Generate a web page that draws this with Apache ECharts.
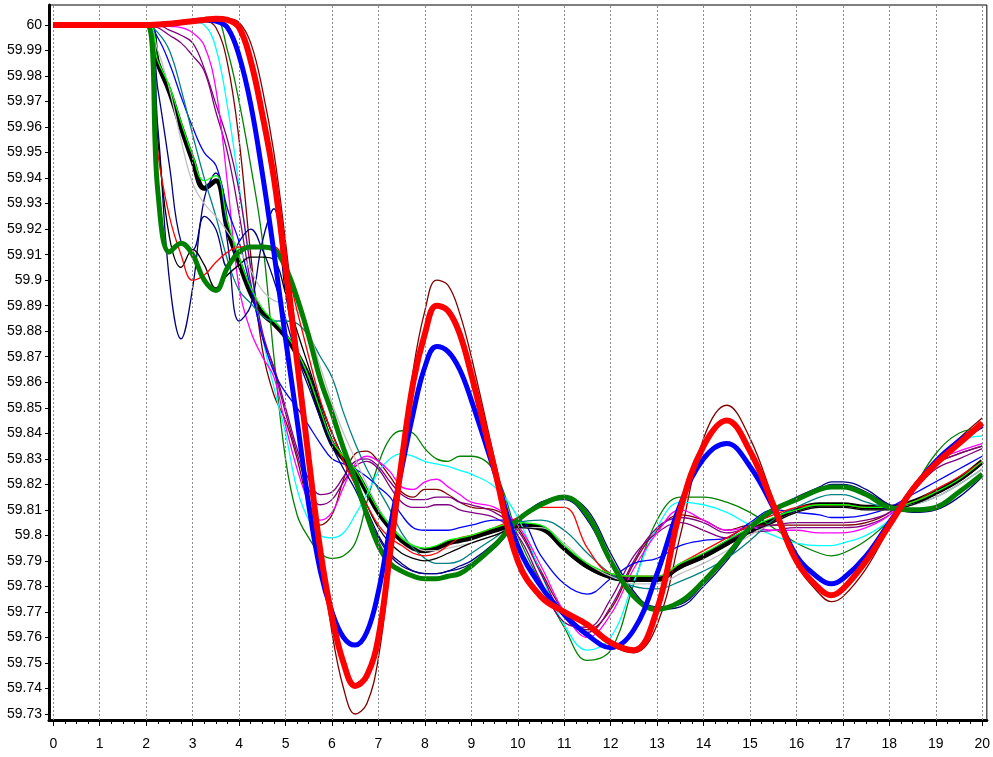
<!DOCTYPE html>
<html><head><meta charset="utf-8">
<script src="https://cdn.jsdelivr.net/npm/echarts@6/dist/echarts.min.js"></script>
<style>html,body{margin:0;padding:0;background:#fff}#c{width:993px;height:757px}</style>
</head><body><div id="c"></div>
<script>
const times = [0, 2, 2.25, 2.5, 2.75, 3, 3.25, 3.5, 3.75, 4, 4.25, 4.5, 4.75, 5, 5.25, 5.5, 5.75, 6, 6.25, 6.5, 6.75, 7, 7.25, 7.5, 7.75, 8, 8.25, 8.5, 8.75, 9, 9.5, 10, 10.5, 11, 11.5, 12, 12.5, 13, 13.5, 14, 14.5, 15, 15.5, 16, 16.5, 16.75, 17, 17.5, 18, 18.5, 19, 19.5, 20];
const xTickLabels = [0,1,2,3,4,5,6,7,8,9,10,11,12,13,14,15,16,17,18,19,20];
const yTickLabels = [60,59.99,59.98,59.97,59.96,59.95,59.94,59.93,59.92,59.91,59.9,59.89,59.88,59.87,59.86,59.85,59.84,59.83,59.82,59.81,59.8,59.79,59.78,59.77,59.76,59.75,59.74,59.73];

const redThick = [60, 60, 60.0002, 60.0005, 60.001, 60.0015, 60.002, 60.0025, 60.002, 59.999, 59.986, 59.965, 59.940, 59.905, 59.868, 59.830, 59.794, 59.768, 59.750, 59.741, 59.745, 59.760, 59.793, 59.829, 59.860, 59.879, 59.890, 59.888, 59.879, 59.863, 59.826, 59.790, 59.776, 59.770, 59.765, 59.758, 59.755, 59.771, 59.810, 59.835, 59.845, 59.833, 59.812, 59.790, 59.779, 59.7765, 59.779, 59.790, 59.804, 59.818, 59.828, 59.836, 59.844];
const blueThick = [60, 60, 60.0002, 60.0005, 60.001, 60.0015, 60.002, 60.0015, 59.999, 59.988, 59.969, 59.942, 59.911, 59.877, 59.845, 59.812, 59.786, 59.770, 59.760, 59.757, 59.762, 59.778, 59.803, 59.826, 59.848, 59.866, 59.874, 59.872, 59.865, 59.853, 59.825, 59.796, 59.780, 59.769, 59.761, 59.756, 59.763, 59.785, 59.812, 59.830, 59.836, 59.827, 59.811, 59.792, 59.783, 59.781, 59.783, 59.792, 59.805, 59.818, 59.829, 59.837, 59.843];
const greenThick = [60, 60, 59.935, 59.911, 59.9145, 59.910, 59.900, 59.896, 59.905, 59.911, 59.913, 59.913, 59.912, 59.905, 59.893, 59.878, 59.861, 59.848, 59.834, 59.822, 59.808, 59.796, 59.789, 59.786, 59.784, 59.783, 59.783, 59.784, 59.785, 59.788, 59.796, 59.806, 59.812, 59.815, 59.808, 59.790, 59.776, 59.771, 59.774, 59.782, 59.792, 59.803, 59.810, 59.814, 59.818, 59.819, 59.819, 59.816, 59.811, 59.810, 59.811, 59.817, 59.824];
const blackThick = [60, 60, 59.985, 59.974, 59.960, 59.947, 59.936, 59.939, 59.920, 59.907, 59.895, 59.887, 59.883, 59.878, 59.871, 59.862, 59.848, 59.836, 59.830, 59.825, 59.817, 59.809, 59.803, 59.798, 59.795, 59.794, 59.795, 59.797, 59.798, 59.799, 59.802, 59.804, 59.803, 59.795, 59.788, 59.784, 59.783, 59.783, 59.788, 59.792, 59.797, 59.802, 59.806, 59.810, 59.812, 59.812, 59.812, 59.811, 59.811, 59.813, 59.817, 59.822, 59.829];
const brownThin = [60, 60, 60.0002, 60.0005, 60.001, 60.0015, 60.002, 60.0025, 60.0025, 60.001, 59.993, 59.975, 59.950, 59.915, 59.875, 59.835, 59.796, 59.762, 59.740, 59.730, 59.734, 59.752, 59.788, 59.829, 59.865, 59.888, 59.900, 59.898, 59.887, 59.870, 59.830, 59.792, 59.775, 59.770, 59.764, 59.757, 59.754, 59.765, 59.800, 59.838, 59.851, 59.838, 59.814, 59.789, 59.777, 59.774, 59.776, 59.787, 59.803, 59.818, 59.829, 59.838, 59.846];
const maroonThin = [60, 60, 60.0002, 60.0005, 60.001, 60.0015, 60.0015, 59.999, 59.985, 59.955, 59.910, 59.873, 59.855, 59.845, 59.830, 59.812, 59.804, 59.808, 59.822, 59.832, 59.833, 59.829, 59.823, 59.817, 59.815, 59.818, 59.818, 59.816, 59.813, 59.811, 59.810, 59.803, 59.786, 59.770, 59.763, 59.771, 59.789, 59.802, 59.808, 59.806, 59.802, 59.804, 59.804, 59.804, 59.804, 59.804, 59.804, 59.805, 59.809, 59.818, 59.828, 59.832, 59.835];
const greenThin = [60, 60, 60.0002, 60.0005, 60.001, 60.0015, 60.002, 60.002, 59.990, 59.970, 59.945, 59.916, 59.870, 59.830, 59.808, 59.799, 59.793, 59.791, 59.792, 59.797, 59.813, 59.828, 59.838, 59.841, 59.840, 59.834, 59.830, 59.829, 59.831, 59.831, 59.825, 59.800, 59.781, 59.764, 59.751, 59.755, 59.781, 59.806, 59.815, 59.815, 59.813, 59.809, 59.803, 59.797, 59.793, 59.792, 59.793, 59.798, 59.806, 59.818, 59.832, 59.840, 59.842];
const cyanThin = [60, 60, 60.0002, 60.0005, 60.001, 60.001, 60.000, 59.991, 59.968, 59.937, 59.905, 59.878, 59.858, 59.840, 59.818, 59.806, 59.800, 59.799, 59.801, 59.808, 59.816, 59.825, 59.830, 59.832, 59.831, 59.829, 59.828, 59.827, 59.8255, 59.824, 59.819, 59.807, 59.785, 59.765, 59.755, 59.760, 59.782, 59.803, 59.813, 59.812, 59.809, 59.804, 59.800, 59.797, 59.796, 59.796, 59.797, 59.800, 59.806, 59.817, 59.830, 59.837, 59.839];
const magentaThin = [60, 60, 60.000, 59.9995, 59.999, 59.997, 59.992, 59.975, 59.938, 59.897, 59.880, 59.870, 59.862, 59.843, 59.826, 59.813, 59.806, 59.809, 59.819, 59.828, 59.831, 59.829, 59.825, 59.819, 59.818, 59.821, 59.822, 59.819, 59.816, 59.813, 59.811, 59.804, 59.788, 59.770, 59.760, 59.769, 59.787, 59.801, 59.810, 59.806, 59.802, 59.803, 59.802, 59.802, 59.801, 59.801, 59.801, 59.803, 59.808, 59.818, 59.829, 59.833, 59.836];
const purpleThinA = [60, 60, 59.999, 59.996, 59.993, 59.988, 59.982, 59.966, 59.950, 59.926, 59.899, 59.878, 59.866, 59.850, 59.834, 59.822, 59.816, 59.817, 59.823, 59.829, 59.830, 59.827, 59.821, 59.816, 59.814, 59.814, 59.815, 59.815, 59.813, 59.812, 59.809, 59.802, 59.785, 59.768, 59.762, 59.772, 59.790, 59.803, 59.807, 59.805, 59.801, 59.803, 59.804, 59.805, 59.805, 59.805, 59.805, 59.806, 59.809, 59.818, 59.828, 59.832, 59.835];
const purpleThinB = [60, 60, 60.000, 59.998, 59.996, 59.993, 59.983, 59.969, 59.955, 59.935, 59.905, 59.880, 59.865, 59.848, 59.832, 59.818, 59.812, 59.814, 59.821, 59.827, 59.829, 59.826, 59.819, 59.813, 59.811, 59.811, 59.812, 59.812, 59.810, 59.809, 59.807, 59.800, 59.782, 59.766, 59.764, 59.775, 59.792, 59.801, 59.805, 59.802, 59.799, 59.801, 59.802, 59.803, 59.803, 59.803, 59.803, 59.804, 59.808, 59.817, 59.826, 59.830, 59.834];
const blueThin = [60, 60, 59.995, 59.985, 59.972, 59.960, 59.950, 59.945, 59.928, 59.915, 59.897, 59.878, 59.864, 59.856, 59.850, 59.843, 59.836, 59.830, 59.828, 59.826, 59.823, 59.819, 59.815, 59.808, 59.803, 59.802, 59.802, 59.802, 59.803, 59.804, 59.806, 59.806, 59.792, 59.781, 59.777, 59.783, 59.789, 59.791, 59.796, 59.798, 59.799, 59.805, 59.810, 59.809, 59.808, 59.807, 59.807, 59.808, 59.811, 59.816, 59.821, 59.826, 59.831];
const navyThinA = [60, 60, 59.960, 59.900, 59.877, 59.897, 59.932, 59.942, 59.915, 59.884, 59.890, 59.915, 59.928, 59.895, 59.872, 59.862, 59.852, 59.840, 59.830, 59.820, 59.810, 59.800, 59.793, 59.789, 59.786, 59.785, 59.785, 59.786, 59.788, 59.790, 59.797, 59.806, 59.813, 59.815, 59.810, 59.793, 59.778, 59.771, 59.772, 59.780, 59.790, 59.802, 59.810, 59.815, 59.819, 59.821, 59.821, 59.818, 59.812, 59.809, 59.810, 59.815, 59.823];
const navyThinB = [60, 60, 59.975, 59.945, 59.915, 59.912, 59.925, 59.920, 59.905, 59.915, 59.920, 59.912, 59.900, 59.885, 59.870, 59.858, 59.846, 59.835, 59.826, 59.818, 59.808, 59.799, 59.792, 59.788, 59.786, 59.785, 59.785, 59.786, 59.787, 59.789, 59.795, 59.805, 59.812, 59.814, 59.806, 59.789, 59.777, 59.772, 59.773, 59.781, 59.791, 59.802, 59.809, 59.814, 59.818, 59.820, 59.820, 59.817, 59.812, 59.810, 59.811, 59.817, 59.824];
const blackThin = [60, 60, 59.955, 59.917, 59.905, 59.912, 59.906, 59.897, 59.902, 59.906, 59.909, 59.909, 59.908, 59.895, 59.880, 59.866, 59.852, 59.840, 59.830, 59.822, 59.812, 59.803, 59.797, 59.793, 59.791, 59.790, 59.791, 59.793, 59.795, 59.797, 59.800, 59.803, 59.802, 59.794, 59.787, 59.783, 59.782, 59.782, 59.787, 59.791, 59.796, 59.801, 59.805, 59.809, 59.811, 59.811, 59.811, 59.810, 59.810, 59.812, 59.816, 59.821, 59.828];
const tealThin = [60, 60, 59.997, 59.990, 59.975, 59.957, 59.940, 59.925, 59.908, 59.896, 59.891, 59.886, 59.884, 59.884, 59.883, 59.878, 59.870, 59.862, 59.848, 59.836, 59.826, 59.818, 59.810, 59.801, 59.795, 59.791, 59.789, 59.789, 59.790, 59.793, 59.799, 59.805, 59.806, 59.802, 59.793, 59.785, 59.780, 59.779, 59.782, 59.786, 59.791, 59.798, 59.806, 59.811, 59.815, 59.816, 59.816, 59.813, 59.811, 59.812, 59.815, 59.820, 59.826];
const grayThin = [60, 60, 59.990, 59.975, 59.955, 59.938, 59.930, 59.925, 59.919, 59.912, 59.904, 59.896, 59.892, 59.891, 59.888, 59.880, 59.866, 59.852, 59.840, 59.830, 59.820, 59.811, 59.804, 59.799, 59.796, 59.794, 59.794, 59.795, 59.796, 59.797, 59.800, 59.803, 59.803, 59.797, 59.789, 59.784, 59.781, 59.781, 59.785, 59.789, 59.794, 59.800, 59.805, 59.809, 59.811, 59.811, 59.811, 59.810, 59.810, 59.812, 59.815, 59.820, 59.826];
const limeThin = [60, 60, 59.986, 59.976, 59.962, 59.949, 59.939, 59.941, 59.923, 59.909, 59.897, 59.889, 59.884, 59.879, 59.872, 59.862, 59.849, 59.837, 59.831, 59.826, 59.818, 59.810, 59.804, 59.799, 59.796, 59.795, 59.796, 59.798, 59.799, 59.800, 59.803, 59.805, 59.804, 59.796, 59.789, 59.785, 59.784, 59.784, 59.789, 59.793, 59.798, 59.803, 59.807, 59.810, 59.812, 59.812, 59.812, 59.811, 59.811, 59.813, 59.817, 59.822, 59.829];
const redThin = [60, 60, 59.950, 59.925, 59.910, 59.900, 59.902, 59.907, 59.911, 59.913, 59.913, 59.913, 59.913, 59.905, 59.888, 59.870, 59.853, 59.840, 59.829, 59.820, 59.812, 59.804, 59.799, 59.796, 59.793, 59.792, 59.793, 59.796, 59.799, 59.800, 59.803, 59.807, 59.811, 59.811, 59.795, 59.785, 59.784, 59.784, 59.789, 59.794, 59.799, 59.804, 59.808, 59.811, 59.812, 59.812, 59.812, 59.811, 59.811, 59.813, 59.818, 59.823, 59.829];

const XMIN = -0.0925, XMAX = 20.1, YMIN = 59.72765, YMAX = 60.00784;
const xMinor = [];
for (let i = 0; i <= 80; i++) xMinor.push(i / 4);

function pts(v) { return times.map((t, i) => [t, v[i]]); }
function thin(name, v, color, z) {
  return { name, type: 'line', data: pts(v), showSymbol: false, smooth: 0.4, z: z || 3,
    lineStyle: { color, width: 1.3 }, emphasis: { disabled: true }, silent: true };
}
function thick(name, v, color, w, z) {
  return { name, type: 'line', data: pts(v), showSymbol: false, smooth: 0.4, z,
    lineStyle: { color, width: w }, emphasis: { disabled: true }, silent: true };
}

const chart = echarts.init(document.getElementById('c'), null, { renderer: 'canvas' });
const font = { fontFamily: 'Liberation Sans, Arial, sans-serif', fontSize: 14, color: '#000' };
chart.setOption({
  animation: false,
  backgroundColor: '#fff',
  grid: { left: 49, right: 5, top: 5, bottom: 37, show: true, borderColor: '#000', borderWidth: 1, backgroundColor: 'transparent' },
  xAxis: [
    { type: 'value', min: XMIN, max: XMAX, position: 'bottom',
      axisLine: { onZero: false, lineStyle: { color: '#000', width: 3 } },
      axisTick: { customValues: xTickLabels, length: 6, lineStyle: { color: '#000', width: 1 } },
      axisLabel: Object.assign({ customValues: xTickLabels, margin: 17 }, font),
      splitLine: { show: false } },
    { type: 'value', min: XMIN, max: XMAX, position: 'bottom',
      axisLine: { show: false, onZero: false },
      axisTick: { customValues: xMinor, length: 4, lineStyle: { color: '#000', width: 1 } },
      axisLabel: { show: false }, splitLine: { show: false } }
  ],
  yAxis: { type: 'value', min: YMIN, max: YMAX,
    axisLine: { onZero: false, lineStyle: { color: '#000', width: 3 } },
    axisTick: { customValues: yTickLabels, length: 4, lineStyle: { color: '#000', width: 1 } },
    axisLabel: Object.assign({ customValues: yTickLabels, margin: 7, formatter: v => String(Math.round(v * 100) / 100) }, font),
    splitLine: { show: false } },
  series: [
    { name: 'grid', type: 'line', data: [], z: 1, silent: true,
      markLine: { silent: true, symbol: 'none', animation: false, label: { show: false },
        lineStyle: { type: [2, 2], color: '#8a8a8a', width: 1 },
        data: xTickLabels.map(v => ({ xAxis: v })) } },
    thick('black', blackThick, '#000000', 5, 2),
    thin('brown', brownThin, '#800000'),
    thin('maroon', maroonThin, '#800000'),
    thin('green2', greenThin, '#008000'),
    thin('cyan', cyanThin, '#00ffff'),
    thin('purpleA', purpleThinA, '#800080'),
    thin('purpleB', purpleThinB, '#800080'),
    thin('magenta', magentaThin, '#ff00ff'),
    thin('blue2', blueThin, '#0000ff'),
    thin('navyA', navyThinA, '#000080'),
    thin('navyB', navyThinB, '#000080'),
    thin('teal', tealThin, '#008080'),
    thin('gray', grayThin, '#c0c0c0'),
    thin('blackThin', blackThin, '#000000'),
    thin('redThin', redThin, '#ff0000'),
    thin('lime', limeThin, '#00ff00'),
    thick('green', greenThick, '#008000', 5, 4),
    thick('blue', blueThick, '#0000ff', 5, 5),
    thick('red', redThick, '#ff0000', 6, 6)
  ]
});
</script></body></html>
